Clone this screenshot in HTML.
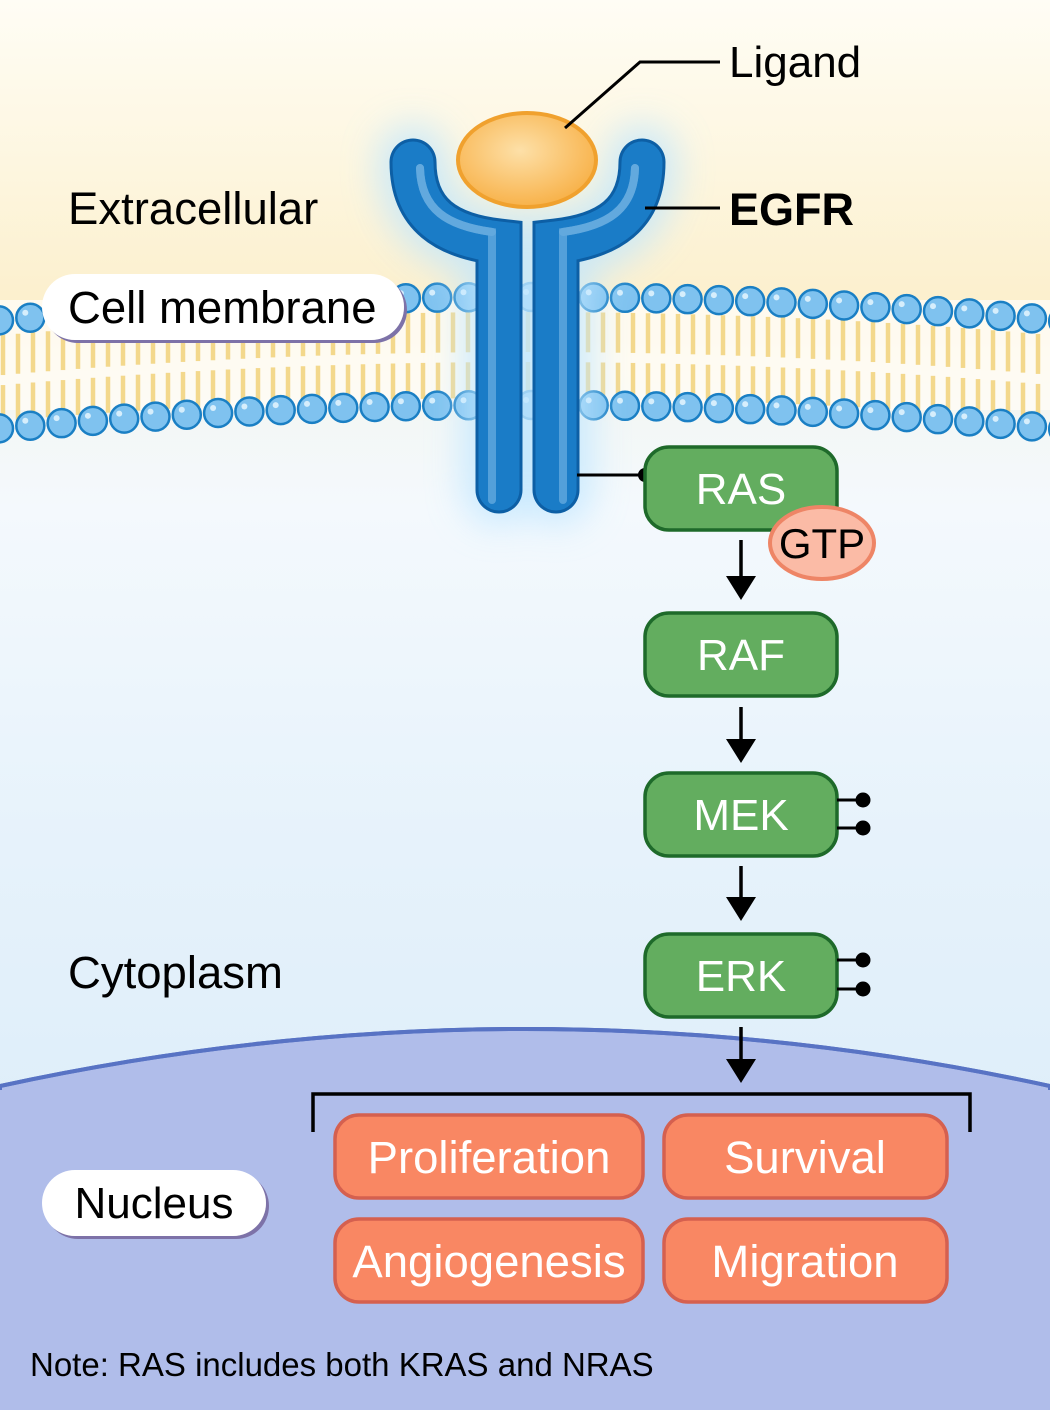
<!DOCTYPE html>
<html><head><meta charset="utf-8">
<style>
html,body{margin:0;padding:0;width:1050px;height:1410px;overflow:hidden;background:#fff;}
svg{display:block;}
text{font-family:"Liberation Sans",Arial,sans-serif;}
</style></head>
<body>
<svg id="s" width="1050" height="1410" viewBox="0 0 1050 1410" xmlns="http://www.w3.org/2000/svg">
<defs>
<linearGradient id="bg" x1="0" y1="0" x2="0" y2="1">
<stop offset="0" stop-color="#fffdf5"/>
<stop offset="0.12" stop-color="#fdf6df"/>
<stop offset="0.22" stop-color="#fcefcc"/>
<stop offset="0.3" stop-color="#f3f7f6"/>
<stop offset="0.36" stop-color="#f4f9fd"/>
<stop offset="0.6" stop-color="#e6f2fb"/>
<stop offset="1" stop-color="#d6eaf7"/>
</linearGradient>
<radialGradient id="lig" cx="0.45" cy="0.4" r="0.6">
<stop offset="0" stop-color="#fde0a8"/>
<stop offset="1" stop-color="#f8b24a"/>
</radialGradient>
<filter id="glow" x="-50%" y="-50%" width="200%" height="200%"><feGaussianBlur stdDeviation="18"/></filter>
<filter id="sh" x="-10%" y="-20%" width="120%" height="150%"><feDropShadow dx="3" dy="3" stdDeviation="0" flood-color="#7d72a8"/></filter>
</defs>
<rect width="1050" height="1410" fill="url(#bg)"/>
<path d="M0,1086 Q525,972 1050,1086 L1050,1410 L0,1410 Z" fill="#b0bdea" stroke="#5873c4" stroke-width="4"/>
<rect x="0" y="1090" width="1050" height="320" fill="#b0bdea"/>
<path d="M0,1086 Q525,972 1050,1086" fill="none" stroke="#5873c4" stroke-width="4"/>

<g id="mem"></g>

<g filter="url(#glow)" opacity="0.8">
<path d="M413,160 C413,215 445,238 498,245 L498,490" fill="none" stroke="#bfe6ff" stroke-width="70" stroke-linecap="round"/>
<path d="M642,160 C642,215 610,238 557,245 L557,490" fill="none" stroke="#bfe6ff" stroke-width="70" stroke-linecap="round"/>
</g>
<g id="half">
<path d="M413,162 C413,215 447,236 499,242 L499,490" fill="none" stroke="#0d5fa5" stroke-width="47" stroke-linecap="round"/>
<path d="M413,162 C413,215 447,236 499,242 L499,490" fill="none" stroke="#1a7cc7" stroke-width="41" stroke-linecap="round"/>
<path d="M420,168 C421,210 448,226 492,232 L492,500" fill="none" stroke="#62a9de" stroke-width="8" stroke-linecap="round" opacity="0.8"/>
<path d="M420,168 C421,210 448,226 492,232" fill="none" stroke="#62a9de" stroke-width="8" stroke-linecap="round"/>
</g>
<use href="#half" transform="translate(1055,0) scale(-1,1)"/>
<ellipse cx="527" cy="160" rx="69" ry="47" fill="url(#lig)" stroke="#f0a12e" stroke-width="4"/>

<polyline points="565,128 640,62 720,62" fill="none" stroke="#000" stroke-width="3"/>
<line x1="645" y1="208" x2="720" y2="208" stroke="#000" stroke-width="3"/>
<text x="729" y="77" font-size="44">Ligand</text>
<text x="729" y="225" font-size="45" font-weight="bold">EGFR</text>
<text x="68" y="224" font-size="45.5">Extracellular</text>

<rect x="42" y="274" width="362" height="66" rx="33" fill="#fff" filter="url(#sh)"/>
<text x="68" y="323" font-size="45.5">Cell membrane</text>

<line x1="577" y1="475" x2="645" y2="475" stroke="#000" stroke-width="3"/>
<circle cx="645" cy="475" r="7" fill="#000"/>

<g stroke="#1e6a2a" stroke-width="3.5" fill="#63ad5f">
<rect x="645" y="447" width="192" height="83" rx="24"/>
<rect x="645" y="613" width="192" height="83" rx="24"/>
<rect x="645" y="773" width="192" height="83" rx="24"/>
<rect x="645" y="934" width="192" height="83" rx="24"/>
</g>
<g fill="#fff" font-size="44" text-anchor="middle">
<text x="741" y="504">RAS</text>
<text x="741" y="670">RAF</text>
<text x="741" y="830">MEK</text>
<text x="741" y="991">ERK</text>
</g>
<ellipse cx="822" cy="543" rx="52" ry="36" fill="#fbbba6" stroke="#ee8566" stroke-width="4"/>
<text x="822" y="558" font-size="42" text-anchor="middle">GTP</text>

<g stroke="#000" stroke-width="3">
<line x1="837" y1="800" x2="862" y2="800"/><line x1="837" y1="828" x2="862" y2="828"/>
<line x1="837" y1="960" x2="862" y2="960"/><line x1="837" y1="989" x2="862" y2="989"/>
</g>
<g fill="#000">
<circle cx="863" cy="800" r="7.5"/><circle cx="863" cy="828" r="7.5"/>
<circle cx="863" cy="960" r="7.5"/><circle cx="863" cy="989" r="7.5"/>
</g>

<g stroke="#000" stroke-width="3.5">
<line x1="741" y1="540" x2="741" y2="580"/>
<line x1="741" y1="707" x2="741" y2="745"/>
<line x1="741" y1="866" x2="741" y2="903"/>
<line x1="741" y1="1027" x2="741" y2="1065"/>
</g>
<g fill="#000">
<polygon points="726,576 756,576 741,600"/>
<polygon points="726,739 756,739 741,763"/>
<polygon points="726,897 756,897 741,921"/>
<polygon points="726,1059 756,1059 741,1083"/>
</g>

<text x="68" y="988" font-size="45.5">Cytoplasm</text>

<polyline points="313,1132 313,1094 970,1094 970,1132" fill="none" stroke="#000" stroke-width="3.5"/>

<g fill="#f98763" stroke="#d5604f" stroke-width="3.5">
<rect x="335" y="1115" width="308" height="83" rx="24"/>
<rect x="664" y="1115" width="283" height="83" rx="24"/>
<rect x="335" y="1219" width="308" height="83" rx="24"/>
<rect x="664" y="1219" width="283" height="83" rx="24"/>
</g>
<g fill="#fff" font-size="45.5" text-anchor="middle">
<text x="489" y="1173">Proliferation</text>
<text x="805" y="1173">Survival</text>
<text x="489" y="1277">Angiogenesis</text>
<text x="805" y="1277">Migration</text>
</g>

<rect x="42" y="1170" width="224" height="66" rx="33" fill="#fff" filter="url(#sh)"/>
<text x="154" y="1218" font-size="44" text-anchor="middle">Nucleus</text>

<text x="30" y="1376" font-size="33">Note: RAS includes both KRAS and NRAS</text>
</svg>
<script>
(function(){
var g=document.getElementById("mem");
function yOff(x){var d=(x-527)/512;return 22*d*d;}
var tails="",heads="";
for(var x=3;x<1055;x+=15){
  var o=yOff(x);
  tails+='<line x1="'+x+'" y1="'+(312+o)+'" x2="'+x+'" y2="'+(352+o)+'"/>';
  tails+='<line x1="'+x+'" y1="'+(362+o)+'" x2="'+x+'" y2="'+(398+o)+'"/>';
}
for(var i=0;i<36;i++){
  var cx=-1+i*31.3,o=yOff(cx);
  [297,405].forEach(function(b){
    var cy=b+o;
    heads+='<circle cx="'+cx+'" cy="'+cy+'" r="14" fill="#7fc2ef" stroke="#1a7fc4" stroke-width="2.5"/>';
    heads+='<circle cx="'+(cx-5)+'" cy="'+(cy-5)+'" r="3" fill="#d6eefc"/>';
  });
}
g.innerHTML='<rect x="0" y="300" width="1050" height="110" fill="#fffdf6" opacity="0.8"/><g stroke="#f3d88c" stroke-width="4.5">'+tails+'</g>'+heads;
})();
</script>
</body></html>
